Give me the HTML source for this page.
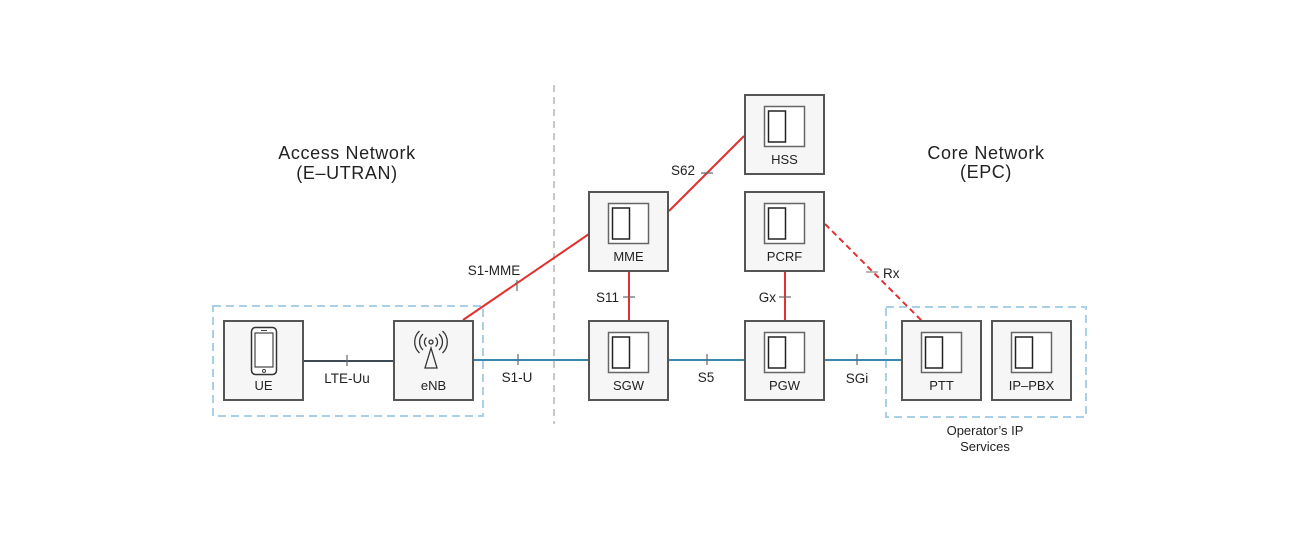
<!DOCTYPE html>
<html>
<head>
<meta charset="utf-8">
<style>
html,body{margin:0;padding:0;background:#fff;}
svg{display:block;}
text{font-family:"Liberation Sans",sans-serif;fill:#222;}
</style>
</head>
<body>
<svg width="1300" height="540" viewBox="0 0 1300 540" xmlns="http://www.w3.org/2000/svg">
  <!-- vertical separator -->
  <line x1="554" y1="85" x2="554" y2="424" stroke="#c8c8c8" stroke-width="2" stroke-dasharray="7,5"/>

  <!-- dashed group boxes -->
  <rect x="213" y="306" width="270" height="110" fill="none" stroke="#a9d0e6" stroke-width="2" stroke-dasharray="8,5"/>
  <rect x="886" y="307" width="200" height="110" fill="none" stroke="#a9d0e6" stroke-width="2" stroke-dasharray="8,5"/>

  <!-- titles -->
  <text x="347" y="159" font-size="18" text-anchor="middle" letter-spacing="0.6">Access Network</text>
  <text x="347" y="179" font-size="18" text-anchor="middle" letter-spacing="0.6">(E–UTRAN)</text>
  <text x="986" y="159" font-size="18" text-anchor="middle" letter-spacing="0.6">Core Network</text>
  <text x="986" y="178" font-size="18" text-anchor="middle" letter-spacing="0.6">(EPC)</text>

  <!-- connectors -->
  <line x1="304" y1="361" x2="393" y2="361" stroke="#3d4b56" stroke-width="2"/>
  <line x1="347" y1="355" x2="347" y2="366" stroke="#666" stroke-width="1.2"/>

  <line x1="474" y1="360" x2="588" y2="360" stroke="#3a88b0" stroke-width="2"/>
  <line x1="518" y1="354" x2="518" y2="365" stroke="#666" stroke-width="1.2"/>
  <line x1="669" y1="360" x2="744" y2="360" stroke="#3a88b0" stroke-width="2"/>
  <line x1="707" y1="354" x2="707" y2="365" stroke="#666" stroke-width="1.2"/>
  <line x1="825" y1="360" x2="901" y2="360" stroke="#3a88b0" stroke-width="2"/>
  <line x1="857" y1="354" x2="857" y2="365" stroke="#666" stroke-width="1.2"/>

  <line x1="463" y1="320" x2="589" y2="234" stroke="#e2302e" stroke-width="2"/>
  <line x1="517" y1="280" x2="517" y2="291" stroke="#666" stroke-width="1.2"/>

  <line x1="669" y1="211" x2="744" y2="136" stroke="#e2302e" stroke-width="2"/>
  <line x1="701" y1="173" x2="713" y2="173" stroke="#666" stroke-width="1.2"/>

  <line x1="629" y1="272" x2="629" y2="320" stroke="#e2302e" stroke-width="2"/>
  <line x1="623" y1="297" x2="635" y2="297" stroke="#666" stroke-width="1.2"/>

  <line x1="785" y1="272" x2="785" y2="320" stroke="#e2302e" stroke-width="2"/>
  <line x1="779" y1="297" x2="791" y2="297" stroke="#666" stroke-width="1.2"/>

  <line x1="825" y1="224" x2="922" y2="321" stroke="#e2302e" stroke-width="2" stroke-dasharray="6,4"/>
  <line x1="866" y1="272" x2="878" y2="272" stroke="#888" stroke-width="1.2"/>

  <!-- connector labels -->
  <g font-size="13.5">
    <text x="347" y="383" text-anchor="middle">LTE-Uu</text>
    <text x="517" y="382" text-anchor="middle">S1-U</text>
    <text x="706" y="382" text-anchor="middle">S5</text>
    <text x="857" y="383" text-anchor="middle">SGi</text>
    <text x="494" y="275" text-anchor="middle">S1-MME</text>
    <text x="695" y="175" text-anchor="end">S62</text>
    <text x="619" y="302" text-anchor="end">S11</text>
    <text x="776" y="302" text-anchor="end">Gx</text>
    <text x="883" y="278">Rx</text>
  </g>
  <g font-size="13">
    <text x="985" y="435" text-anchor="middle">Operator’s IP</text>
    <text x="985" y="451" text-anchor="middle">Services</text>
  </g>

  <!-- node boxes -->
  <g fill="#f6f6f6" stroke="#555" stroke-width="2">
    <rect x="224" y="321" width="79" height="79"/>
    <rect x="394" y="321" width="79" height="79"/>
    <rect x="589" y="192" width="79" height="79"/>
    <rect x="745" y="95" width="79" height="79"/>
    <rect x="745" y="192" width="79" height="79"/>
    <rect x="589" y="321" width="79" height="79"/>
    <rect x="745" y="321" width="79" height="79"/>
    <rect x="902" y="321" width="79" height="79"/>
    <rect x="992" y="321" width="79" height="79"/>
  </g>

  <!-- server icons -->
  <g fill="#fff" stroke="#666" stroke-width="1.5">
    <rect x="608.5" y="203.5" width="40" height="40"/>
    <rect x="764.5" y="106.5" width="40" height="40"/>
    <rect x="764.5" y="203.5" width="40" height="40"/>
    <rect x="608.5" y="332.5" width="40" height="40"/>
    <rect x="764.5" y="332.5" width="40" height="40"/>
    <rect x="921.5" y="332.5" width="40" height="40"/>
    <rect x="1011.5" y="332.5" width="40" height="40"/>
  </g>
  <g fill="#fff" stroke="#222" stroke-width="1.5">
    <rect x="612.5" y="208" width="17" height="31"/>
    <rect x="768.5" y="111" width="17" height="31"/>
    <rect x="768.5" y="208" width="17" height="31"/>
    <rect x="612.5" y="337" width="17" height="31"/>
    <rect x="768.5" y="337" width="17" height="31"/>
    <rect x="925.5" y="337" width="17" height="31"/>
    <rect x="1015.5" y="337" width="17" height="31"/>
  </g>

  <!-- phone icon -->
  <rect x="251.5" y="327.5" width="25" height="47" rx="4" fill="#fff" stroke="#333" stroke-width="1.5"/>
  <rect x="255" y="333" width="18" height="34" fill="#fff" stroke="#444" stroke-width="1.2"/>
  <line x1="261" y1="330.5" x2="267" y2="330.5" stroke="#444" stroke-width="1"/>
  <circle cx="264" cy="371" r="1.5" fill="none" stroke="#444" stroke-width="1"/>

  <!-- antenna icon -->
  <g fill="none" stroke="#333" stroke-width="1.3">
    <circle cx="431" cy="342" r="2"/>
    <path d="M426.5 337.5 A6 6 0 0 0 426.5 346.5"/>
    <path d="M435.5 337.5 A6 6 0 0 1 435.5 346.5"/>
    <path d="M423 334 A11 11 0 0 0 423 350"/>
    <path d="M439 334 A11 11 0 0 1 439 350"/>
    <path d="M419.5 331 A15 15 0 0 0 419.5 353"/>
    <path d="M442.5 331 A15 15 0 0 1 442.5 353"/>
    <path d="M431 348 L425 368 L437 368 Z" stroke-linejoin="miter"/>
  </g>

  <!-- node labels -->
  <g font-size="13" text-anchor="middle">
    <text x="263.5" y="390">UE</text>
    <text x="433.5" y="390">eNB</text>
    <text x="628.5" y="261">MME</text>
    <text x="784.5" y="164">HSS</text>
    <text x="784.5" y="261">PCRF</text>
    <text x="628.5" y="390">SGW</text>
    <text x="784.5" y="390">PGW</text>
    <text x="941.5" y="390">PTT</text>
    <text x="1031.5" y="390">IP–PBX</text>
  </g>
</svg>
</body>
</html>
